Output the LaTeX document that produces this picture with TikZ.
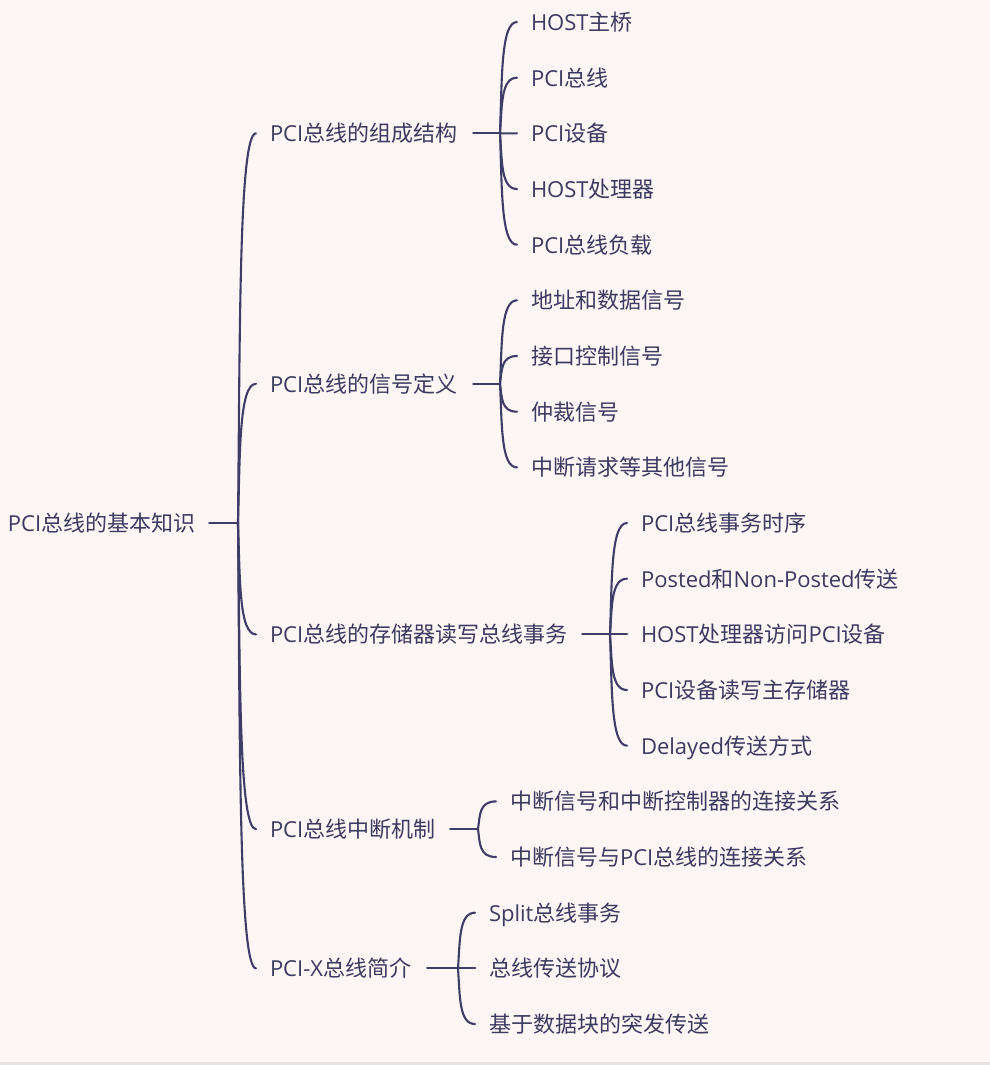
\documentclass[tikz,border=0pt]{standalone}
\usepackage{fontspec}
\setmainfont{Noto Sans CJK SC}
\newfontfamily\lat{Open Sans}
\usetikzlibrary{calc}
\definecolor{bgc}{HTML}{FDF6F4}
\definecolor{txt}{HTML}{3B3A60}
\definecolor{lnc}{HTML}{3E3D68}
\definecolor{strip}{HTML}{E6E3E3}
\tikzset{
  lbl/.style={inner sep=0pt, outer sep=0pt, anchor=west, text=txt,
    font=\fontsize{22}{26}\selectfont, text height=19.4pt, text depth=2.6pt},
  conn/.style={draw=lnc, line width=2.1pt, line cap=round},
  brc/.style={conn, to path={let \p1=(\tikztostart), \p2=(\tikztotarget) in
     .. controls ({\x1+2pt},{0.5*\y1+0.5*\y2}) and ({\x1+1pt},\y2) .. (\tikztotarget)}}
}
\begin{document}
\begin{tikzpicture}[x=1pt,y=-1pt]
\fill[bgc] (0,0) rectangle (990,1065);
\fill[strip] (0,1062) rectangle (990,1065);
\useasboundingbox (0,0) rectangle (990,1065);

% root
\node[lbl] (r) at (8,523) {{\lat PCI}总线的基本知识};
\coordinate (jr) at (238,523);

% level 1
\node[lbl] (a) at (270,133.3) {{\lat PCI}总线的组成结构};
\node[lbl] (b) at (270,383.8) {{\lat PCI}总线的信号定义};
\node[lbl] (c) at (270,634.4) {{\lat PCI}总线的存储器读写总线事务};
\node[lbl] (d) at (270,829.2) {{\lat PCI}总线中断机制};
\node[lbl] (e) at (270,968.4) {{\lat PCI-X}总线简介};
\coordinate (ja) at (500,133.3);
\coordinate (jb) at (500,383.8);
\coordinate (jc) at (610,634.4);
\coordinate (jd) at (478,829.2);
\coordinate (je) at (458,968.4);

% level 2
\node[lbl] (a1) at (531,22)    {{\lat HOST}主桥};
\node[lbl] (a2) at (531,77.7)  {{\lat PCI}总线};
\node[lbl] (a3) at (531,133.3) {{\lat PCI}设备};
\node[lbl] (a4) at (531,189)   {{\lat HOST}处理器};
\node[lbl] (a5) at (531,244.7) {{\lat PCI}总线负载};

\node[lbl] (b1) at (531,300.3) {地址和数据信号};
\node[lbl] (b2) at (531,356)   {接口控制信号};
\node[lbl] (b3) at (531,411.7) {仲裁信号};
\node[lbl] (b4) at (531,467.4) {中断请求等其他信号};

\node[lbl] (c1) at (641,523)   {{\lat PCI}总线事务时序};
\node[lbl] (c2) at (641,578.7) {{\lat Posted}和{\lat Non-Posted}传送};
\node[lbl] (c3) at (641,634.4) {{\lat HOST}处理器访问{\lat PCI}设备};
\node[lbl] (c4) at (641,690)   {{\lat PCI}设备读写主存储器};
\node[lbl] (c5) at (641,745.7) {{\lat Delayed}传送方式};

\node[lbl] (d1) at (510,801.4) {中断信号和中断控制器的连接关系};
\node[lbl] (d2) at (510,857)   {中断信号与{\lat PCI}总线的连接关系};

\node[lbl] (e1) at (489,912.7)  {{\lat Split}总线事务};
\node[lbl] (e2) at (489,968.4)  {总线传送协议};
\node[lbl] (e3) at (489,1024)   {基于数据块的突发传送};

% connectors
\draw[conn] ([xshift=14pt]r.east) -- (jr);
\foreach \c in {a,b,c,d,e} \draw[brc] (jr) to ([xshift=-14pt]\c.west);

\draw[conn] ([xshift=16pt]a.east) -- (ja);
\foreach \c in {a1,a2,a3,a4,a5} \draw[brc] (ja) to ([xshift=-14pt]\c.west);

\draw[conn] ([xshift=16pt]b.east) -- (jb);
\foreach \c in {b1,b2,b3,b4} \draw[brc] (jb) to ([xshift=-14pt]\c.west);

\draw[conn] ([xshift=15pt]c.east) -- (jc);
\foreach \c in {c1,c2,c3,c4,c5} \draw[brc] (jc) to ([xshift=-14pt]\c.west);

\draw[conn] ([xshift=15pt]d.east) -- (jd);
\foreach \c in {d1,d2} \draw[brc] (jd) to ([xshift=-14pt]\c.west);

\draw[conn] ([xshift=16pt]e.east) -- (je);
\foreach \c in {e1,e2,e3} \draw[brc] (je) to ([xshift=-14pt]\c.west);
\end{tikzpicture}
\end{document}
